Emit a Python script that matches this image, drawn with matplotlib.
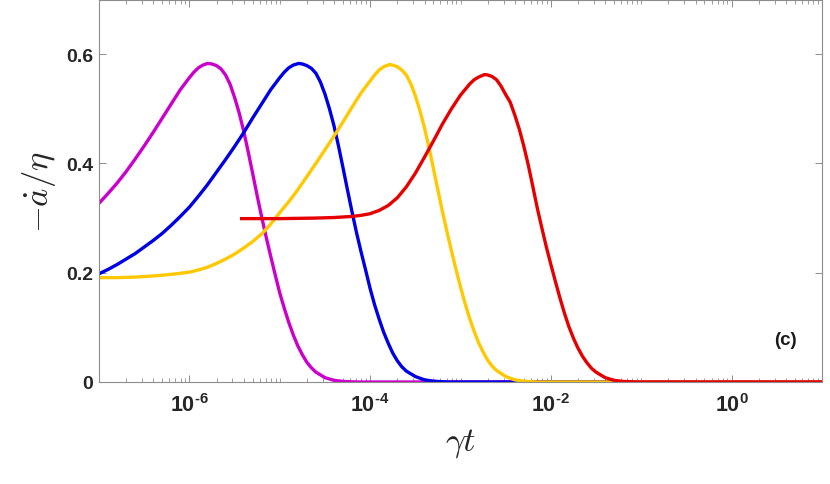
import numpy as np
import matplotlib
matplotlib.use("Agg")
import matplotlib.pyplot as plt
from matplotlib.ticker import LogLocator, FixedLocator, FuncFormatter, NullFormatter

plt.rcParams['font.family'] = ['Liberation Sans', 'DejaVu Sans']
plt.rcParams['mathtext.fontset'] = 'custom'
plt.rcParams['mathtext.rm'] = 'Liberation Sans:bold'
plt.rcParams['mathtext.it'] = 'Liberation Sans:bold'
plt.rcParams['mathtext.bf'] = 'Liberation Sans:bold'

# ---- data (log10 of gamma*t, and -a_dot/eta) ----
magenta_logt = [-7.0, -6.9, -6.8, -6.7, -6.6, -6.5, -6.4, -6.3, -6.2, -6.1, -6.0, -5.95,
                -5.9, -5.85, -5.8, -5.75, -5.7, -5.65, -5.6, -5.55, -5.5, -5.45, -5.4, -5.35,
                -5.3, -5.25, -5.2, -5.15, -5.1, -5.05, -5.0, -4.95, -4.9, -4.85, -4.8, -4.75,
                -4.7, -4.65, -4.6, -4.5, -4.4, -4.3, -4.15, 1.0]
magenta_val = [0.327, 0.345, 0.364, 0.385, 0.408, 0.432, 0.457, 0.483, 0.509, 0.535, 0.557, 0.567,
               0.575, 0.580, 0.583, 0.582, 0.579, 0.573, 0.562, 0.545, 0.521, 0.493, 0.460, 0.422,
               0.382, 0.341, 0.302, 0.265, 0.230, 0.196, 0.163, 0.135, 0.109, 0.086, 0.066, 0.050,
               0.036, 0.026, 0.018, 0.008, 0.003, 0.001, 0.0, 0.0]

blue_logt = [-7.0, -6.9, -6.8, -6.7, -6.6, -6.5, -6.4, -6.3, -6.2, -6.1, -6.0, -5.9, -5.8,
             -5.7, -5.6, -5.5, -5.4, -5.3, -5.2, -5.1, -5.0,
             -4.95, -4.9, -4.85, -4.79, -4.75, -4.7, -4.65, -4.6, -4.55, -4.5, -4.45, -4.4,
             -4.35, -4.3, -4.25, -4.2, -4.15, -4.1, -4.05, -4.0, -3.95, -3.9, -3.85, -3.8,
             -3.75, -3.7, -3.65, -3.6, -3.5, -3.4, -3.3, -3.15, 1.0]
blue_val = [0.198, 0.206, 0.215, 0.225, 0.235, 0.247, 0.259, 0.272, 0.287, 0.303, 0.320, 0.340, 0.361,
            0.384, 0.407, 0.431, 0.456, 0.483, 0.509, 0.535, 0.557,
            0.567, 0.575, 0.580, 0.583, 0.582, 0.579, 0.574, 0.565, 0.549, 0.527, 0.500, 0.469,
            0.432, 0.392, 0.351, 0.311, 0.273, 0.238, 0.205, 0.171, 0.141, 0.115, 0.091, 0.071,
            0.053, 0.039, 0.028, 0.020, 0.010, 0.004, 0.0015, 0.0, 0.0]

gold_logt = [-7.0, -6.8, -6.6, -6.4, -6.2, -6.0, -5.9, -5.8, -5.7, -5.6, -5.5, -5.4, -5.3,
             -5.2, -5.1, -5.0, -4.9, -4.8, -4.7, -4.6, -4.5,
             -4.4, -4.3, -4.2, -4.1, -4.0, -3.95, -3.9, -3.85, -3.785, -3.75, -3.7, -3.65,
             -3.6, -3.55, -3.5, -3.45, -3.4, -3.35, -3.3, -3.25, -3.2, -3.15, -3.1, -3.05,
             -3.0, -2.95, -2.9, -2.85, -2.8, -2.75, -2.7, -2.65, -2.6, -2.5, -2.4, -2.3,
             -2.15, 1.0]
gold_val = [0.191, 0.191, 0.192, 0.194, 0.197, 0.201, 0.205, 0.210, 0.217, 0.225, 0.234, 0.245, 0.257,
            0.271, 0.289, 0.310, 0.330, 0.352, 0.376, 0.400, 0.425,
            0.450, 0.476, 0.503, 0.529, 0.551, 0.562, 0.571, 0.577, 0.581, 0.580, 0.577, 0.571,
            0.562, 0.546, 0.524, 0.497, 0.466, 0.430, 0.391, 0.351, 0.312, 0.275, 0.240, 0.206,
            0.174, 0.144, 0.117, 0.093, 0.072, 0.055, 0.040, 0.029, 0.021, 0.010, 0.004, 0.0015,
            0.0, 0.0]

red_logt = [-5.44, -5.0, -4.6, -4.4, -4.2, -4.1, -4.0, -3.9, -3.8, -3.7, -3.6, -3.5, -3.4,
            -3.3, -3.2, -3.1, -3.0, -2.95, -2.9, -2.85, -2.8, -2.735, -2.7, -2.65, -2.6,
            -2.55, -2.5, -2.45, -2.4, -2.35, -2.3, -2.25, -2.2, -2.15, -2.1, -2.05, -2.0,
            -1.95, -1.9, -1.85, -1.8, -1.75, -1.7, -1.65, -1.6, -1.55, -1.5, -1.4, -1.3,
            -1.2, -1.05, 1.0]
red_val = [0.299, 0.299, 0.300, 0.301, 0.303, 0.305, 0.308, 0.314, 0.323, 0.337, 0.357, 0.382, 0.411,
           0.441, 0.472, 0.500, 0.525, 0.535, 0.545, 0.553, 0.558, 0.5626, 0.562, 0.559, 0.553,
           0.541, 0.526, 0.512, 0.489, 0.463, 0.432, 0.397, 0.358, 0.318, 0.282, 0.247, 0.215,
           0.184, 0.154, 0.126, 0.101, 0.080, 0.062, 0.047, 0.035, 0.025, 0.018, 0.008, 0.003,
           0.001, 0.0, 0.0]

series = [
    (magenta_logt, magenta_val, '#CC00CC'),
    (blue_logt, blue_val, '#0000E6'),
    (gold_logt, gold_val, '#FFC800'),
    (red_logt, red_val, '#E60000'),
]

yticks = [0, 0.2, 0.4, 0.6]
ytick_labels = ['0', '0.2', '0.4', '0.6']
xmajor_exps = [-6, -4, -2, 0]


def xfmt(v, p):
    e = int(round(np.log10(v)))
    if e < 0:
        return r'$\mathbf{10^{\text{-}%d}}$' % (-e)
    return r'$\mathbf{10^{%d}}$' % e


fig = plt.figure(figsize=(8.30, 4.85), dpi=100)
ax = fig.add_axes([99 / 830, 102 / 485, 723 / 830, 382.5 / 485])

for logt, val, c in series:
    ax.plot(10.0 ** np.array(logt), val, color=c, lw=2.4,
            solid_capstyle='butt', solid_joinstyle='round')

ax.set_xscale('log')
ax.set_xlim(1e-7, 1e1)
ax.set_ylim(0, 0.7)

ax.xaxis.set_major_locator(FixedLocator([10.0 ** e for e in xmajor_exps]))
ax.xaxis.set_major_formatter(FuncFormatter(xfmt))
ax.xaxis.set_minor_locator(LogLocator(base=10, subs=np.arange(1, 10), numticks=50))
ax.xaxis.set_minor_formatter(NullFormatter())
ax.set_yticks(yticks)
ax.set_yticklabels(ytick_labels)

spine_c = '#8c8c8c'
for s in ax.spines.values():
    s.set_color(spine_c)
    s.set_linewidth(0.8)
ax.tick_params(which='both', direction='in', top=True, right=True, color=spine_c)
ax.tick_params(which='major', length=5, width=0.7)
ax.tick_params(which='minor', length=3, width=0.6)
ax.tick_params(axis='x', which='major', labelsize=15.5, pad=8, labelcolor='#262626')
ax.tick_params(axis='y', which='major', labelsize=14, pad=4, labelcolor='#262626')
for lab in ax.get_yticklabels():
    lab.set_fontweight('bold')

ax.set_xlabel(r'$\gamma t$', fontsize=25, math_fontfamily='cm', labelpad=7, color='#262626')
ax.set_ylabel(r'$-\dot{a}/\eta$', fontsize=25, math_fontfamily='cm', labelpad=6, color='#262626')

ax.text(0.950, 0.11, '(c)', transform=ax.transAxes, fontsize=13.5, fontweight='bold',
        ha='center', va='center', color='#1a1a1a')

fig.savefig('out.png', dpi=100)
